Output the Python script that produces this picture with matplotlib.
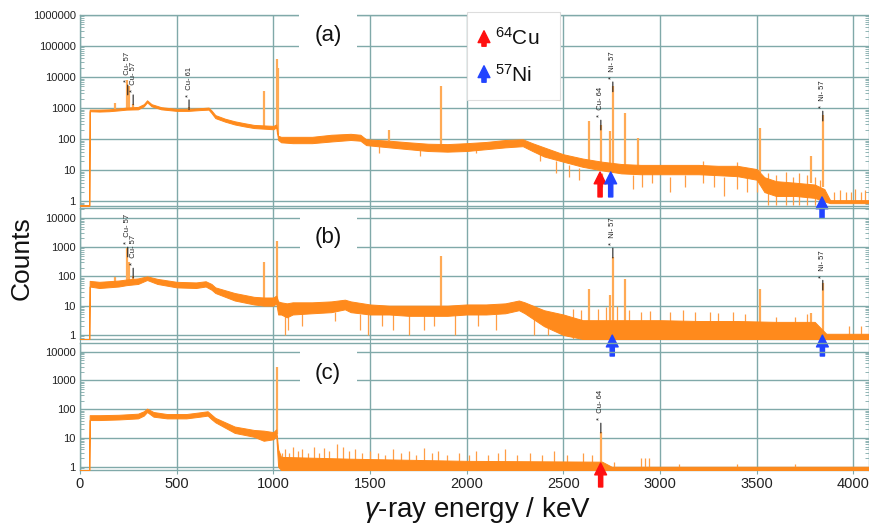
import numpy as np
import matplotlib.pyplot as plt
from matplotlib.ticker import LogLocator, NullFormatter
from matplotlib.patches import Rectangle, FancyArrowPatch

plt.rcParams['font.family'] = ['Liberation Sans', 'DejaVu Sans']
plt.rcParams['mathtext.fontset'] = 'custom'
plt.rcParams['mathtext.rm'] = 'Liberation Sans'
plt.rcParams['mathtext.it'] = 'Liberation Sans:italic'

# ---- spectrum (a): band of counts (low / high)
energy_a = [0, 48, 50, 100, 150, 200, 240, 300, 330, 347, 370, 420, 500, 560, 620, 665,
            680, 700, 750, 800, 850, 900, 950, 1000, 1015, 1025, 1040, 1100, 1200, 1300,
            1400, 1450, 1480, 1600, 1700, 1800, 1900, 2000, 2100, 2200, 2290, 2340, 2400,
            2500, 2600, 2700, 2800, 2900, 3000, 3100, 3200, 3300, 3400, 3500, 3540, 3600,
            3700, 3800, 3850, 3880, 4081]
low_a = [0, 0, 800, 780, 800, 850, 900, 920, 1150, 1550, 1150, 920, 820, 820, 870, 900,
         700, 480, 370, 300, 260, 230, 220, 210, 240, 95, 80, 75, 75, 85,
         95, 90, 65, 55, 48, 42, 40, 42, 48, 55, 60, 42, 28,
         19, 13, 10, 8, 7.5, 7.5, 7.5, 7.5, 7, 6.5, 5, 2, 1.5,
         1.5, 1.3, 1, 0.88, 0.88]
high_a = [0, 0, 900, 900, 920, 980, 1050, 1100, 1350, 1800, 1350, 1080, 950, 960, 1000, 1050,
          850, 600, 460, 380, 330, 290, 280, 270, 300, 130, 120, 120, 120, 140,
          150, 140, 100, 90, 80, 72, 70, 75, 82, 95, 100, 75, 55,
          33, 24, 19, 16, 15, 15, 15, 15, 14, 14, 11, 6, 4.5,
          4, 3.5, 2.5, 1.1, 1.1]
peak_e_a = [181, 245, 252, 275, 564, 950, 1018, 1024, 1600, 1866, 2635, 2694, 2742, 2756,
            2820, 2888, 3519, 3780, 3842]
peak_base_a = [950, 1000, 1000, 1000, 950, 260, 260, 150, 90, 70, 20, 18, 16, 16,
               14, 14, 8, 4, 3]
peak_top_a = [1500, 8300, 5000, 1400, 1100, 3700, 38000, 20000, 200, 5300, 380, 280, 180, 5000,
              700, 110, 230, 28, 600]
# single-channel fluctuations that stick out of the band
noise_e_a = [1545, 1760, 2050, 2380, 2460, 2530, 2580, 2700, 2860, 2905, 2960, 3050, 3130,
             3220, 3280, 3330, 3400, 3450, 3500, 3560, 3600, 3650, 3690, 3720, 3760, 3800,
             3830, 3900, 3930, 3960, 3990, 4010, 4040, 4060]
noise_lo_a = [35, 30, 35, 20, 8, 6, 5, 3, 2.5, 3, 4, 2, 3,
              4, 3, 1.5, 2.5, 2, 2, 0, 0, 0, 0, 0, 0, 0,
              0, 1, 1, 1, 1, 1, 1, 1]
noise_hi_a = [60, 45, 50, 40, 20, 15, 12, 8, 7, 8, 9, 6, 7,
              20, 7, 6, 18, 6, 5, 8, 7, 9, 6, 8, 7, 6,
              5, 2, 2.3, 2, 2, 2.5, 2, 2.3]

# ---- spectrum (b)
energy_b = [0, 48, 50, 100, 200, 240, 300, 347, 400, 500, 600, 650, 680, 700, 800, 900,
            950, 1000, 1015, 1025, 1040, 1070, 1100, 1200, 1300, 1370, 1400, 1500, 1600,
            1700, 1800, 1900, 2000, 2100, 2200, 2270, 2300, 2400, 2500, 2600, 2800, 3000,
            3200, 3400, 3600, 3800, 3860, 4081]
low_b = [0, 0, 45, 40, 45, 50, 55, 75, 55, 42, 40, 45, 35, 27, 15, 11,
         10, 10, 12, 5, 5, 4, 5, 5.5, 6, 7.5, 6, 5, 5,
         4.5, 4.5, 4.5, 5, 5, 5.5, 7, 5.5, 2, 1, 0, 0, 0,
         0, 0, 0, 0, 0, 0]
high_b = [0, 0, 70, 65, 72, 78, 85, 100, 82, 65, 62, 68, 55, 42, 27, 20,
          19, 19, 22, 14, 13, 12, 13, 13, 14, 16, 14, 11, 10,
          10, 10, 10, 11, 11, 12, 15, 13, 7, 5, 3.2, 3.2, 3.2,
          3, 3, 2.8, 2.8, 1.1, 1.1]
peak_e_b = [181, 245, 252, 275, 950, 1018, 1866, 2635, 2742, 2756, 2820, 3519, 3780, 3842]
peak_base_b = [60, 60, 60, 60, 15, 15, 8, 2, 2, 2, 2, 1, 1, 1]
peak_top_b = [98, 900, 320, 100, 315, 1660, 510, 36, 23, 470, 80, 36, 5.6, 58]
noise_e_b = [1060, 1075, 1150, 1320, 1450, 1490, 1560, 1620, 1700, 1780, 1830, 1940, 2060,
             2150, 2350, 2420, 2550, 2590, 2680, 2720, 2780, 2840, 2900, 2950, 3050,
             3120, 3180, 3260, 3300, 3380, 3440, 3600, 3700, 3760, 3980, 4040]
noise_lo_b = [1, 1.5, 2, 3, 1.5, 1, 2, 1.5, 1, 1.5, 2, 1, 2,
              1.5, 1, 1, 0, 0, 0, 0, 0, 0, 0, 0, 0,
              0, 0, 0, 0, 0, 0, 0, 0, 0, 0, 0]
noise_hi_b = [6, 6, 6, 6, 5, 5, 5, 5, 5, 5, 5, 5, 5,
              5, 4, 3, 8, 7, 8, 9, 10, 7, 6, 6.5, 6,
              7, 6, 6, 5.5, 6, 5, 4, 4, 5, 2, 2]

# ---- spectrum (c)
energy_c = [0, 48, 50, 100, 200, 300, 330, 347, 380, 450, 550, 620, 660, 680, 700, 800,
            900, 950, 1000, 1015, 1025, 1040, 1400, 2000, 2700, 2750, 4081]
low_c = [0, 0, 42, 42, 44, 48, 60, 80, 55, 48, 48, 55, 60, 45, 35, 15,
         11, 8, 9, 12, 1, 0, 0, 0, 0, 0, 0]
high_c = [0, 0, 62, 62, 64, 70, 85, 105, 80, 68, 68, 78, 85, 65, 50, 25,
          19, 18, 16, 20, 4, 2.2, 1.9, 1.6, 1.5, 1.0, 1.0]
peak_e_c = [1018, 2694]
peak_base_c = [14, 1]
peak_top_c = [2860, 16]
noise_e_c = [1045, 1060, 1080, 1100, 1125, 1150, 1180, 1210, 1235, 1260, 1290, 1330, 1360,
             1390, 1420, 1460, 1500, 1540, 1580, 1620, 1660, 1700, 1740, 1780, 1820, 1850,
             1900, 1960, 2010, 2050, 2110, 2160, 2200, 2260, 2330, 2390, 2450, 2520, 2600,
             2650, 2760, 2900, 2920, 2945, 3100, 3400, 3700]
noise_lo_c = [0] * 47
noise_hi_c = [3, 4, 3, 5, 3.5, 4, 3, 5, 3, 4.5, 3.5, 6, 5,
              3.5, 4, 3, 3.5, 3, 2.5, 4, 3, 3.5, 2.5, 4.5, 3, 3.5,
              2.5, 3, 2.5, 3.5, 2.5, 3, 4, 2.5, 3, 2.5, 3.5, 2.5, 3,
              2.5, 1.5, 2, 2, 2, 1.2, 1.2, 1.2]

# peak identification labels: energy, line base (counts), text
label_e_a = [247, 275, 564, 2694, 2756, 3842]
label_y_a = [2700, 1300, 900, 200, 3400, 390]
label_t_a = ['Cu- 57', 'Cu- 57', 'Cu- 61', 'Cu- 64', 'Ni- 57', 'Ni- 57']
label_e_b = [247, 275, 2756, 3842]
label_y_b = [460, 88, 425, 34]
label_t_b = ['Cu- 57', 'Cu- 57', 'Ni- 57', 'Ni- 57']
label_e_c = [2694]
label_y_c = [15]
label_t_c = ['Cu- 64']

# marker arrows: energy, nuclide
arrow_e_a = [2690, 2745, 3838]
arrow_n_a = ['Cu', 'Ni', 'Ni']
arrow_e_b = [2753, 3840]
arrow_n_b = ['Ni', 'Ni']
arrow_e_c = [2693]
arrow_n_c = ['Cu']

yticks_a = [1, 10, 100, 1000, 10000, 100000, 1000000]
yticks_bc = [1, 10, 100, 1000, 10000]
xticks = [0, 500, 1000, 1500, 2000, 2500, 3000, 3500, 4000]

W, H = 869, 526
grid_c = '#80a9a9'
orange = '#ff8a1c'
peak_c = '#ffaa55'
noise_c = '#ff9d45'
arrow_c = {'Cu': '#ff1010', 'Ni': '#2244ff'}
arrow_style = 'simple,head_length=0.85,head_width=0.85,tail_width=0.3'

fig = plt.figure(figsize=(W / 100, H / 100), dpi=100)


def px_box(x0, y0, x1, y1):
    return [x0 / W, 1 - y1 / H, (x1 - x0) / W, (y1 - y0) / H]


panels = [
    dict(box=(80, 15, 869, 205.5), ylim=(0.74, 1e6), yt=yticks_a,
         e=energy_a, lo=low_a, hi=high_a, pe=peak_e_a, pb=peak_base_a, pt=peak_top_a,
         ne=noise_e_a, nl=noise_lo_a, nh=noise_hi_a,
         le=label_e_a, ly=label_y_a, lt=label_t_a, ae=arrow_e_a, an=arrow_n_a,
         arr=[(0.176, 0.045), (0.176, 0.045), (0.045, -0.066)]),
    dict(box=(80, 208, 869, 339), ylim=(0.73, 21400), yt=yticks_bc,
         e=energy_b, lo=low_b, hi=high_b, pe=peak_e_b, pb=peak_base_b, pt=peak_top_b,
         ne=noise_e_b, nl=noise_lo_b, nh=noise_hi_b,
         le=label_e_b, ly=label_y_b, lt=label_t_b, ae=arrow_e_b, an=arrow_n_b,
         arr=[(0.03, -0.13), (0.03, -0.13)]),
    dict(box=(80, 343.3, 869, 470), ylim=(0.77, 19600), yt=yticks_bc,
         e=energy_c, lo=low_c, hi=high_c, pe=peak_e_c, pb=peak_base_c, pt=peak_top_c,
         ne=noise_e_c, nl=noise_lo_c, nh=noise_hi_c,
         le=label_e_c, ly=label_y_c, lt=label_t_c, ae=arrow_e_c, an=arrow_n_c,
         arr=[(0.055, -0.134)]),
]

for i, p in enumerate(panels):
    ax = fig.add_axes(px_box(*p['box']))
    ax.patch.set_visible(False)
    ax.set_yscale('log')
    ax.set_xlim(0, 4081)
    ax.set_ylim(*p['ylim'])
    ybot = p['ylim'][0]

    lo = np.maximum(np.array(p['lo'], float), ybot)
    hi = np.maximum(np.array(p['hi'], float), ybot)
    ax.fill_between(p['e'], lo, hi, color=orange, lw=0.7, zorder=3)
    ax.vlines(p['ne'], np.maximum(np.array(p['nl'], float), ybot), p['nh'],
              color=noise_c, lw=0.9, zorder=2.95)
    ax.vlines(p['pe'], p['pb'], p['pt'], color=peak_c, lw=1.6, zorder=2.9)

    for e, y, t in zip(p['le'], p['ly'], p['lt']):
        ax.annotate('', xy=(e, y), xytext=(0, 7), textcoords='offset points',
                    arrowprops=dict(arrowstyle='-', lw=0.8, color='#222222',
                                    shrinkA=0, shrinkB=0), zorder=4)
        ax.annotate('*  ' + t, xy=(e, y), xytext=(0, 9), textcoords='offset points',
                    rotation=90, ha='center', va='bottom', fontsize=5.5,
                    color='#222222', zorder=4)

    for e, n, (tip, tail) in zip(p['ae'], p['an'], p['arr']):
        ax.annotate('', xy=(e, tip), xycoords=('data', 'axes fraction'),
                    xytext=(e, tail), textcoords=('data', 'axes fraction'),
                    arrowprops=dict(arrowstyle=arrow_style, color=arrow_c[n],
                                    mutation_scale=10, shrinkA=0, shrinkB=0),
                    annotation_clip=False, zorder=6)

    ax.set_yticks(p['yt'])
    ax.set_yticklabels([str(v) for v in p['yt']])
    ax.yaxis.set_minor_locator(LogLocator(base=10, subs=np.arange(2, 10)))
    ax.yaxis.set_minor_formatter(NullFormatter())
    ax.set_xticks(xticks)
    ax.grid(True, which='major', color=grid_c, lw=1.0, zorder=1)
    for s in ax.spines.values():
        s.set_color(grid_c)
        s.set_linewidth(1.0)
    ax.tick_params(axis='y', which='major', length=0, labelsize=8, labelcolor='#222222', pad=3)
    ax.tick_params(axis='y', which='minor', direction='in', length=3, color=grid_c,
                   left=True, right=True)
    ax.tick_params(axis='x', which='major', direction='out', length=3, color=grid_c,
                   labelsize=10.5, labelcolor='#222222', pad=2,
                   labelbottom=(i == 2))

# panel letters on white boxes
for (x0, y0, x1, y1), (tx, ty), s in [((299, 12, 357, 48), (328, 35), '(a)'),
                                       ((300, 214, 357, 252), (328, 238), '(b)'),
                                       ((300, 350, 357, 386), (328, 373), '(c)')]:
    fig.add_artist(Rectangle(px_box(x0, y0, x1, y1)[:2], (x1 - x0) / W, (y1 - y0) / H,
                             transform=fig.transFigure, fc='white', ec='none', zorder=5))
    fig.text(tx / W, 1 - ty / H, s, ha='center', va='center', fontsize=16,
             color='#111111', zorder=6)

# legend box
fig.add_artist(Rectangle(px_box(467, 12, 560, 100)[:2], 93 / W, 88 / H,
                         transform=fig.transFigure, fc='white', ec='#dddddd', lw=0.8, zorder=5))
for n, (ytip, ytail, yt, lbl) in [('Cu', (28, 49, 38, r'$^{64}$Cu')),
                                   ('Ni', (63, 85, 75, r'$^{57}$Ni'))]:
    fig.add_artist(FancyArrowPatch((484 / W, 1 - ytail / H), (484 / W, 1 - ytip / H),
                                   transform=fig.transFigure, arrowstyle=arrow_style,
                                   mutation_scale=10, color=arrow_c[n], zorder=6))
    fig.text(495 / W, 1 - yt / H, lbl, ha='left', va='center', fontsize=15,
             color='#111111', zorder=6)

fig.text(22 / W, 1 - 258 / H, 'Counts', rotation=90, ha='center', va='center',
         fontsize=19, color='#111111')
fig.text(478 / W, 1 - 510 / H, r'$\mathit{γ}$-ray energy / keV', ha='center', va='center',
         fontsize=20, color='#111111')

fig.savefig('out.png', dpi=100, facecolor='white')
